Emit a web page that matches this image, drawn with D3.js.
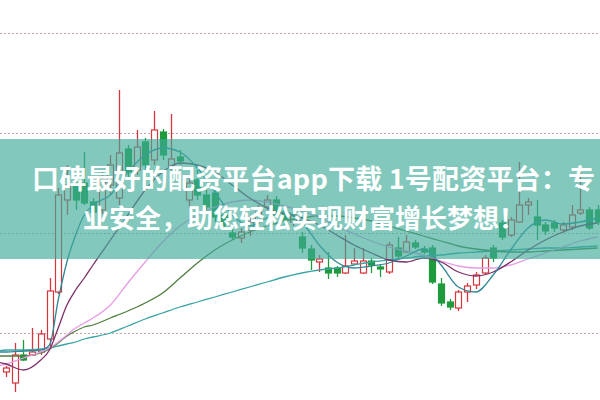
<!DOCTYPE html>
<html>
<head>
<meta charset="utf-8">
<script src="https://cdn.jsdelivr.net/npm/d3@7"></script>
<style>
  html, body { margin: 0; padding: 0; background: #ffffff; }
  svg { display: block; }
</style>
</head>
<body>
<svg id="chart" width="600" height="400"></svg>
<script>
// ---- data (prices) ----
const candleOpen  = [6.1,5.0,7.8,7.8,8.1,9.4,14.1,23.3,24.8,25.0,23.1,22.3,24.8,23.5,28.4,26.3,29.1,27.3,30.1,26.7,27.6,23.3,25.3,23.8,24.0,21.8,20.0,19.5,20.3,21.3,22.6,23.3,22.1,21.1,19.6,18.4,17.1,16.5,16.5,16.0,16.9,16.0,17.2,16.6,16.1,18.5,18.1,19.0,18.4,18.5,14.9,13.1,12.5,14.1,14.8,16.0,18.5,21.0,19.8,21.1,22.8,21.6,20.8,21.0,20.3,20.6,22.0,22.3,22.3];
const candleHigh  = [6.7,9.0,9.3,10.5,10.3,15.5,24.5,26.8,25.8,28.1,23.5,26.3,27.8,34.3,28.8,30.3,29.5,32.2,30.4,31.9,28.3,25.5,26.3,24.8,24.5,22.3,20.5,20.5,21.8,22.8,23.8,23.7,22.5,22.3,20.1,18.8,17.8,18.1,16.7,19.8,18.5,18.5,17.5,16.8,19.1,19.6,19.8,19.3,18.7,18.8,15.5,13.4,14.3,15.0,16.1,17.8,18.8,21.3,21.6,27.1,23.5,23.3,21.1,21.3,21.1,22.8,26.1,22.6,22.8];
const candleLow   = [5.6,4.1,7.2,7.7,7.8,8.4,13.9,21.8,22.3,22.8,21.5,21.9,23.8,22.8,25.3,25.8,26.3,26.8,27.3,26.3,26.8,22.5,23.3,22.1,21.1,20.3,19.3,19.0,19.7,20.9,22.3,21.5,20.8,20.7,18.0,16.3,16.1,15.4,15.6,15.9,16.8,15.9,16.0,15.6,15.9,17.5,18.0,18.4,17.9,14.9,12.7,12.3,12.2,13.1,14.4,15.8,17.1,19.3,19.6,21.0,21.8,19.3,19.8,20.1,20.0,20.3,21.8,20.3,20.8];
const candleClose = [6.5,7.8,7.3,8.1,9.9,14.2,23.8,24.8,23.3,23.0,22.1,25.3,26.8,28.0,26.1,28.6,26.8,30.3,27.8,27.4,27.2,25.0,23.8,22.6,21.6,20.8,19.6,20.1,21.1,22.1,23.3,21.8,21.3,21.8,18.5,17.3,17.4,16.0,16.0,16.7,17.2,17.2,16.8,16.4,18.8,17.7,19.1,18.6,18.1,15.1,13.0,12.6,14.1,14.7,15.8,17.5,17.5,19.6,21.3,22.8,23.1,20.8,20.2,20.5,20.8,21.8,22.3,20.5,21.1];

// moving-average lines, sampled at these candle indices
const maIdx = [-1,0,2,4,5,6,7,8,9,10,12,14,16,18,20,22,24,26,28,30,32,34,36,38,40,42,44,46,48,50,52,54,56,58,60,62,64,66,68];
const ma5  = [8.1,8.1,8.2,8.3,8.8,13.3,17.1,19.8,21.8,22.8,23.8,26.1,27.8,28.5,28.1,26.5,24.1,21.8,20.7,21.5,22.1,21.1,18.8,17.1,16.5,16.7,17.0,17.7,18.4,16.8,14.6,14.1,15.8,18.3,20.5,21.3,20.9,21.1,21.5];
const ma10 = [7.1,6.9,6.3,7.3,8.3,10.5,12.8,14.3,15.5,16.8,19.3,21.8,24.3,26.1,27.0,26.8,26.1,24.8,23.5,22.5,21.9,21.5,20.8,19.8,18.8,18.0,17.3,17.1,17.5,17.1,16.1,15.7,16.1,17.1,18.3,19.3,20.1,20.7,21.0];
const ma20 = [6.7,6.9,7.5,8.1,8.5,9.1,9.8,10.5,11.0,11.5,12.8,15.0,17.1,19.1,20.7,21.8,22.6,23.1,23.3,23.1,22.7,22.2,21.5,20.7,19.9,19.2,18.6,18.2,17.8,17.2,16.7,16.5,16.5,16.8,17.4,18.0,18.6,19.2,19.6];
const ma30 = [7.7,7.7,7.7,8.0,8.4,9.0,9.7,10.2,10.6,10.8,11.5,12.2,13.0,14.0,15.5,17.0,18.3,19.3,20.1,20.7,21.2,21.5,21.7,21.7,21.5,21.2,20.7,20.2,19.7,19.2,18.7,18.4,18.2,18.1,18.1,18.2,18.3,18.4,18.5];
const ma60 = [8.2,8.3,8.3,8.4,8.5,8.7,8.9,9.1,9.4,9.6,10.0,10.7,11.4,12.0,12.6,13.1,13.6,14.1,14.6,15.1,15.6,16.0,16.3,16.5,16.8,17.1,17.3,17.5,17.7,17.8,18.0,18.1,18.2,18.3,18.4,18.5,18.5,18.6,18.7];

const gridValues = [10, 20, 30, 40];
const bannerLines = ["口碑最好的配资平台app下载 1号配资平台：专", "业安全，助您轻松实现财富增长梦想！"];

// ---- drawing ----
const svg = d3.select("#chart");
const W = 600, H = 400;
svg.append("rect").attr("width", W).attr("height", H).attr("fill", "#ffffff");

const x = d3.scaleLinear().domain([0, 68]).range([6, 597.6]);
const y = d3.scaleLinear().domain([0, 40]).range([433, 33]);

// grid
svg.append("g").selectAll("line").data(gridValues).join("line")
  .attr("x1", 0).attr("x2", W)
  .attr("y1", d => Math.round(y(d)) + 0.5).attr("y2", d => Math.round(y(d)) + 0.5)
  .attr("stroke", "#c4a4a8").attr("stroke-width", 1).attr("stroke-dasharray", "2,2");

const candles = candleOpen.map((o, i) => ({ i, o, h: candleHigh[i], l: candleLow[i], c: candleClose[i] }));
const RED = "#d8343c", GREEN = "#1f9a3c";
const bw = 6;
const cg = svg.append("g");
candles.forEach(d => {
  const up = d.c >= d.o;
  const col = up ? RED : GREEN;
  const cx = Math.round(x(d.i)) + 0.5;
  const top = y(Math.max(d.o, d.c)), bot = y(Math.min(d.o, d.c));
  cg.append("line").attr("x1", cx).attr("x2", cx).attr("y1", y(d.h)).attr("y2", top)
    .attr("stroke", col).attr("stroke-width", 1.3);
  cg.append("line").attr("x1", cx).attr("x2", cx).attr("y1", bot).attr("y2", y(d.l))
    .attr("stroke", col).attr("stroke-width", 1.3);
  cg.append("rect").attr("x", cx - bw / 2).attr("y", top)
    .attr("width", bw).attr("height", Math.max(1.5, bot - top))
    .attr("fill", up ? "#ffffff" : col).attr("stroke", col).attr("stroke-width", 1.2);
});

const maSeries = [
  { v: ma60, color: "#3aa3a3" },
  { v: ma30, color: "#4e7f3c" },
  { v: ma20, color: "#e79ce6" },
  { v: ma10, color: "#7d2e68" },
  { v: ma5,  color: "#2f8797" }
];
const line = d3.line().x(d => x(d[0])).y(d => y(d[1])).curve(d3.curveMonotoneX);
maSeries.forEach(s => {
  svg.append("path").datum(maIdx.map((k, j) => [k, s.v[j]]))
    .attr("d", line).attr("fill", "none").attr("stroke", s.color).attr("stroke-width", 1.3);
});

// banner overlay
svg.append("rect").attr("x", 0).attr("y", 139).attr("width", W).attr("height", 120)
  .attr("fill", "#3fab9a").attr("opacity", 0.65);
const bannerText = svg.append("g")
  .attr("font-family", "'Noto Sans CJK SC', 'Noto Sans', sans-serif")
  .attr("font-weight", "bold").attr("fill", "#ffffff");
bannerText.append("text")
  .attr("x", 32).attr("y", 189).attr("font-size", 27)
  .attr("textLength", 563).attr("lengthAdjust", "spacing")
  .text(bannerLines[0]);
bannerText.append("text")
  .attr("x", 304).attr("y", 228).attr("font-size", 26).attr("text-anchor", "middle")
  .text(bannerLines[1]);
</script>
</body>
</html>
